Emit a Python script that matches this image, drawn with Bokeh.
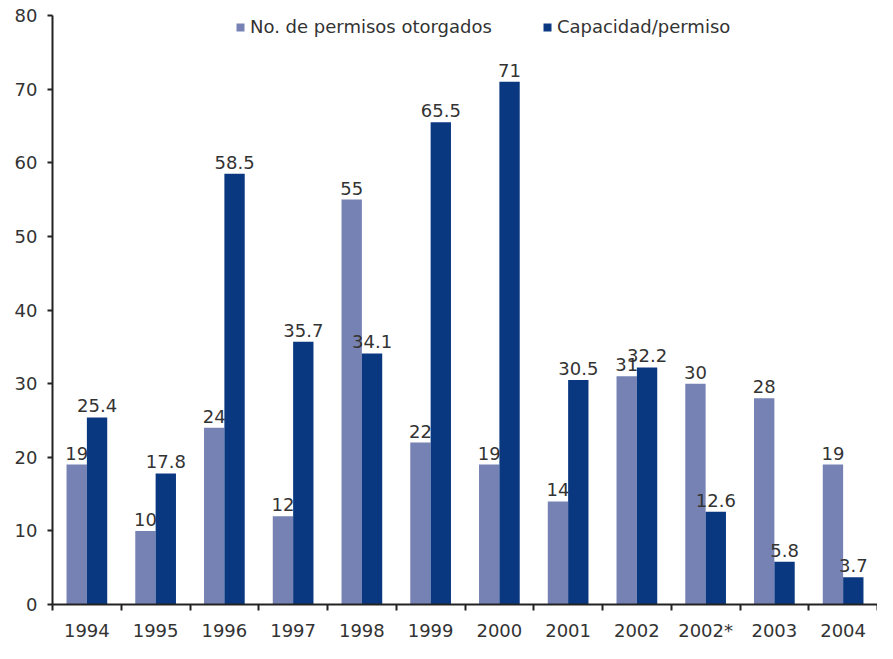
from bokeh.plotting import figure
from bokeh.models import ColumnDataSource, FixedTicker, Range1d, Legend, LegendItem
from bokeh.transform import dodge
from bokeh.core.properties import value
from bokeh.embed import file_html
from bokeh.resources import INLINE

years = ["1994", "1995", "1996", "1997", "1998", "1999", "2000", "2001", "2002", "2002*", "2003", "2004"]
permisos = [19, 10, 24, 12, 55, 22, 19, 14, 31, 30, 28, 19]
capacidad = [25.4, 17.8, 58.5, 35.7, 34.1, 65.5, 71, 30.5, 32.2, 12.6, 5.8, 3.7]
y_ticks = [0, 10, 20, 30, 40, 50, 60, 70, 80]

LIGHT = "#7682b4"
DARK = "#0a3880"
TXT = "#333333"
FONT = "DejaVu Sans"
FS = "18px"

n = len(years)
centers = [i + 0.5 for i in range(n)]
src = ColumnDataSource(dict(
    x=centers, p=permisos, c=capacidad,
    pl=[f"{v:g}" for v in permisos], cl=[f"{v:g}" for v in capacidad],
))

p = figure(width=877, height=643, output_backend="svg", toolbar_location=None,
           x_range=Range1d(0, n), y_range=Range1d(0, 80),
           min_border_left=52, min_border_right=0, min_border_top=15, min_border_bottom=33)
p.outline_line_color = None
p.grid.visible = False
p.background_fill_color = "white"
p.border_fill_color = "white"

bw = 0.296
off = 0.148
r1 = p.vbar(x=dodge("x", -off, range=p.x_range), top="p", width=bw, source=src,
            fill_color=LIGHT, line_color=None)
r2 = p.vbar(x=dodge("x", off, range=p.x_range), top="c", width=bw, source=src,
            fill_color=DARK, line_color=None)

p.text(x=dodge("x", -off, range=p.x_range), y="p", text="pl", source=src,
       text_align="center", text_baseline="bottom", y_offset=-5,
       text_font=value(FONT), text_font_size=FS, text_color=TXT)
p.text(x=dodge("x", off, range=p.x_range), y="c", text="cl", source=src,
       text_align="center", text_baseline="bottom", y_offset=-5,
       text_font=value(FONT), text_font_size=FS, text_color=TXT)

# axes
xa = p.xaxis[0]
xa.ticker = FixedTicker(ticks=centers, minor_ticks=list(range(n + 1)))
xa.major_label_overrides = {c: y for c, y in zip(centers, years)}
xa.major_tick_out = 0
xa.major_tick_in = 0
xa.minor_tick_out = 6
xa.minor_tick_in = 0
xa.minor_tick_line_color = "#222222"
xa.minor_tick_line_width = 2
xa.axis_line_color = "#222222"
xa.axis_line_width = 2
xa.major_label_standoff = 9
xa.major_label_text_font = FONT
xa.major_label_text_font_size = FS
xa.major_label_text_color = TXT

ya = p.yaxis[0]
ya.ticker = FixedTicker(ticks=y_ticks, minor_ticks=[])
ya.major_tick_out = 5
ya.major_tick_in = 0
ya.major_tick_line_color = "#222222"
ya.major_tick_line_width = 2
ya.axis_line_color = "#222222"
ya.axis_line_width = 2
ya.major_label_standoff = 10
ya.major_label_text_font = FONT
ya.major_label_text_font_size = FS
ya.major_label_text_color = TXT

legend = Legend(items=[LegendItem(label="No. de permisos otorgados", renderers=[r1]),
                       LegendItem(label="Capacidad/permiso", renderers=[r2])],
                orientation="horizontal", location=(183, 567),
                glyph_width=10, glyph_height=10, label_standoff=5, spacing=50,
                padding=0, margin=0, border_line_color=None, background_fill_alpha=0,
                label_text_font=FONT, label_text_font_size=FS, label_text_color=TXT)
p.add_layout(legend)

open("out.html", "w").write(file_html(p, INLINE))
